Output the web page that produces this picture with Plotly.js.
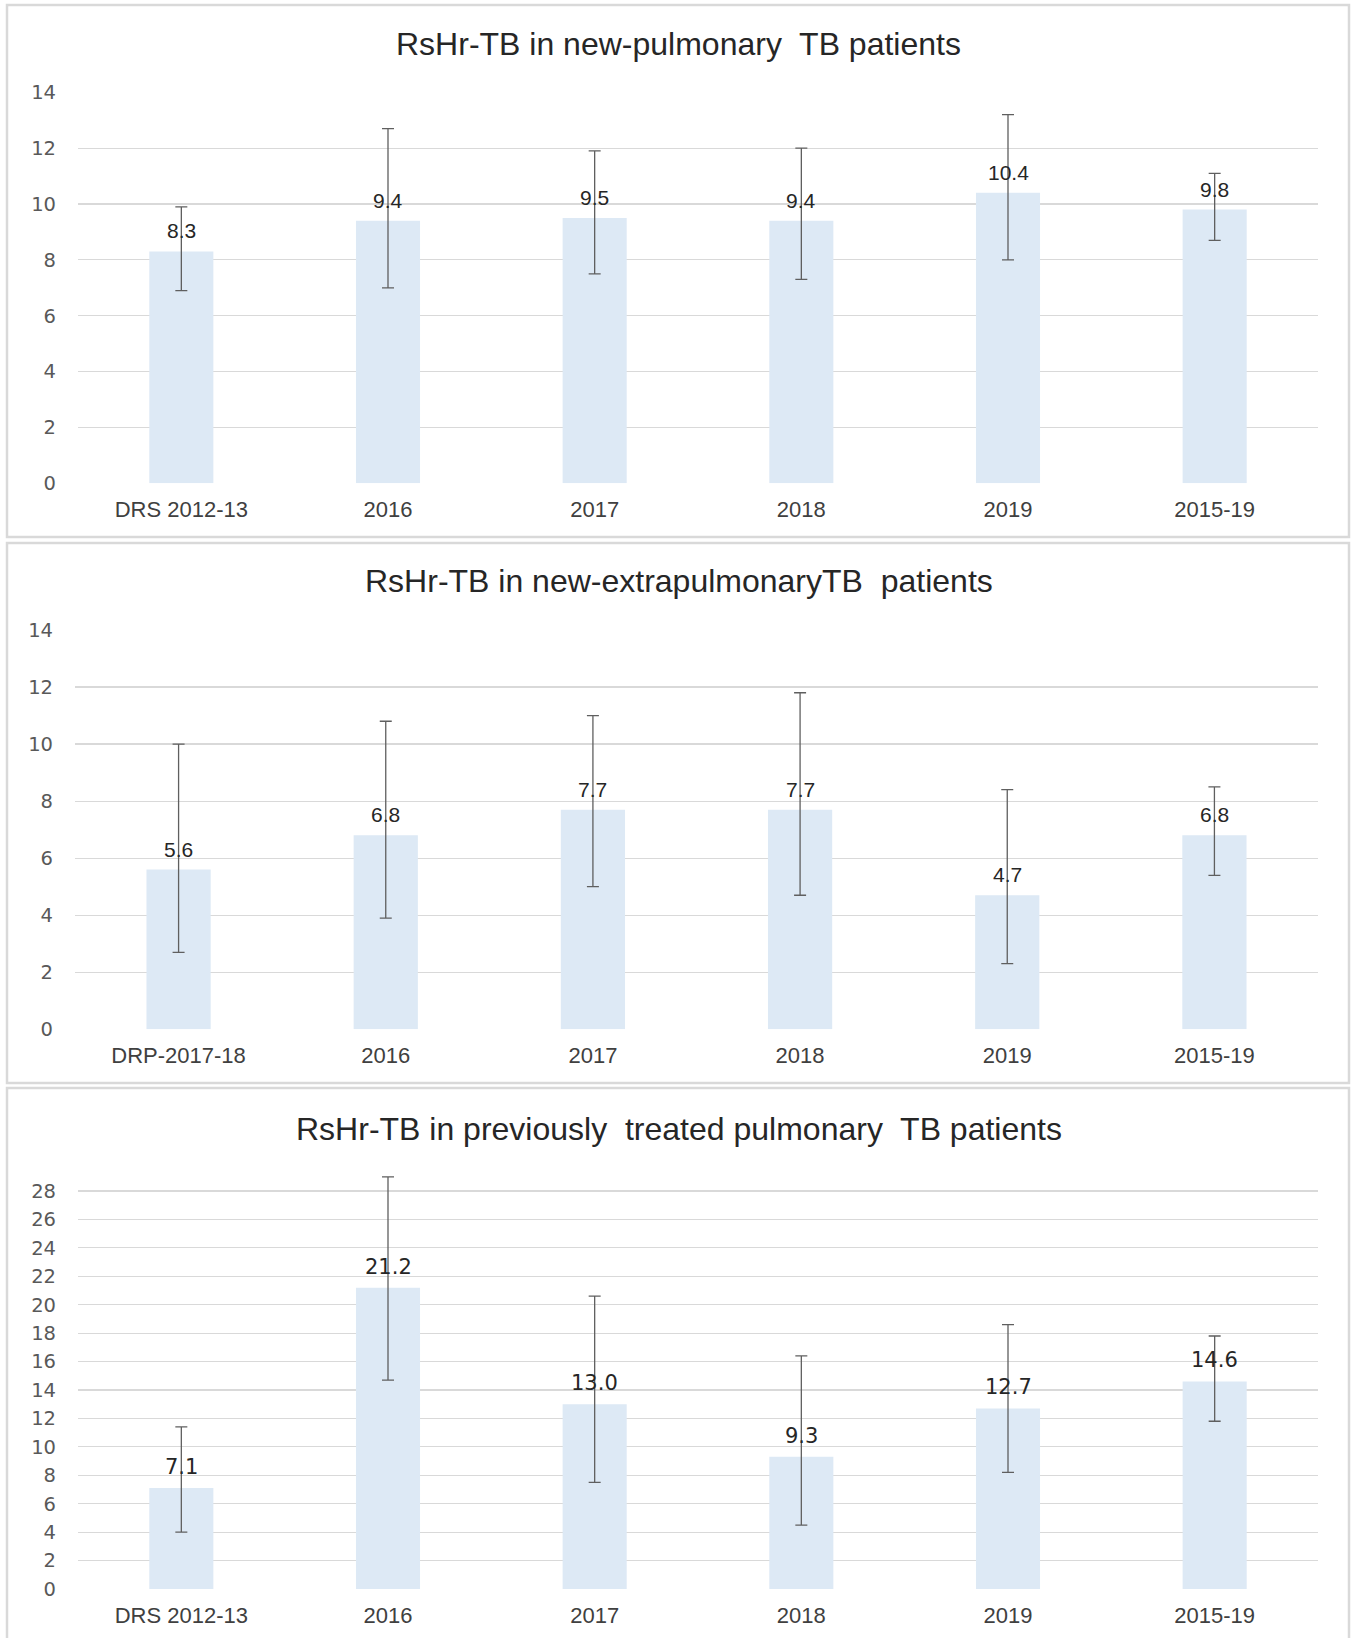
<!DOCTYPE html>
<html>
<head>
<meta charset="utf-8">
<script src="https://cdn.plot.ly/plotly-3.0.1.min.js"></script>
<style>
  html, body { margin: 0; padding: 0; background: #ffffff; }
  #chart { width: 1352px; height: 1638px; }
</style>
</head>
<body>
<div id="chart"></div>
<script>
// ---------- data ----------
const categories1 = ['DRS 2012-13', '2016', '2017', '2018', '2019', '2015-19'];
const values1 = [8.3, 9.4, 9.5, 9.4, 10.4, 9.8];
const upper1 = [9.9, 12.7, 11.9, 12.0, 13.2, 11.1];
const lower1 = [6.9, 7.0, 7.5, 7.3, 8.0, 8.7];

const categories2 = ['DRP-2017-18', '2016', '2017', '2018', '2019', '2015-19'];
const values2 = [5.6, 6.8, 7.7, 7.7, 4.7, 6.8];
const upper2 = [10.0, 10.8, 11.0, 11.8, 8.4, 8.5];
const lower2 = [2.7, 3.9, 5.0, 4.7, 2.3, 5.4];

const categories3 = ['DRS 2012-13', '2016', '2017', '2018', '2019', '2015-19'];
const values3 = [7.1, 21.2, 13.0, 9.3, 12.7, 14.6];
const upper3 = [11.4, 29.0, 20.6, 16.4, 18.6, 17.8];
const lower3 = [4.0, 14.7, 7.5, 4.5, 8.2, 11.8];

const titles = [
  'RsHr-TB in new-pulmonary\u00a0 TB patients',
  'RsHr-TB in new-extrapulmonaryTB\u00a0 patients',
  'RsHr-TB in previously\u00a0 treated pulmonary\u00a0 TB patients'
];
const ticks1 = [0, 2, 4, 6, 8, 10, 12, 14];
const ticks2 = [0, 2, 4, 6, 8, 10, 12, 14];
const ticks3 = [0, 2, 4, 6, 8, 10, 12, 14, 16, 18, 20, 22, 24, 26, 28];

// ---------- layout helpers ----------
const W = 1352, H = 1638;
const py = v => 1 - v / H;     // pixel-y -> paper-y
const px = v => v / W;         // pixel-x -> paper-x

const BAR_COLOR = '#dde9f5';
const ERR_COLOR = '#5f5f5f';
const GRID = '#d9d9d9';

function barTrace(cats, vals, up, lo, xa, ya) {
  return {
    type: 'bar',
    x: cats,
    y: vals,
    xaxis: xa,
    yaxis: ya,
    width: 0.31,
    marker: { color: BAR_COLOR, line: { width: 0 } },
    error_y: {
      type: 'data',
      symmetric: false,
      array: up.map((u, i) => +(u - vals[i]).toFixed(2)),
      arrayminus: lo.map((l, i) => +(vals[i] - l).toFixed(2)),
      color: ERR_COLOR,
      thickness: 1.3,
      width: 6
    },
    hoverinfo: 'x+y',
    showlegend: false
  };
}

const data = [
  barTrace(categories1, values1, upper1, lower1, 'x', 'y'),
  barTrace(categories2, values2, upper2, lower2, 'x2', 'y2'),
  barTrace(categories3, values3, upper3, lower3, 'x3', 'y3')
];

function labelAnnots(cats, vals, xref, yref, font) {
  return cats.map((c, i) => ({
    x: i, y: vals[i], xref: xref, yref: yref,
    text: vals[i].toFixed(1),
    showarrow: false,
    yanchor: 'bottom',
    xanchor: 'center',
    yshift: 7,
    font: font
  }));
}

const labelFontA = { family: 'Liberation Sans, Arial, sans-serif', size: 21, color: '#262626' };
const labelFontB = { family: 'DejaVu Sans, sans-serif', size: 21, color: '#262626' };
const tickFont = { family: 'DejaVu Sans, sans-serif', size: 19.5, color: '#595959' };
const xFont = { family: 'Liberation Sans, Arial, sans-serif', size: 22, color: '#404040' };
const titleFont = { family: 'Liberation Sans, Arial, sans-serif', size: 32, color: '#262626' };

function xAxis(domain, anchor, cats) {
  return {
    domain: domain,
    anchor: anchor,
    type: 'category',
    categoryorder: 'array',
    categoryarray: cats,
    range: [-0.5, cats.length - 0.5],
    autorange: false,
    showgrid: false,
    zeroline: false,
    showline: false,
    ticks: '',
    tickfont: xFont,
    ticklabelstandoff: 11,
    fixedrange: true
  };
}
function yAxis(domain, anchor, range, tv) {
  return {
    domain: domain,
    anchor: anchor,
    range: range,
    autorange: false,
    tickmode: 'array',
    tickvals: tv,
    ticktext: tv.map(String),
    showgrid: true,
    gridcolor: GRID,
    gridwidth: 1.2,
    zeroline: false,
    showline: false,
    ticks: '',
    tickfont: tickFont,
    ticklabelstandoff: 21,
    fixedrange: true
  };
}

const borderLine = { color: '#d9d9d9', width: 2.5 };
const shapes = [
  { type: 'rect', xref: 'paper', yref: 'paper', x0: px(7), x1: px(1349), y0: py(537), y1: py(5), line: borderLine },
  { type: 'rect', xref: 'paper', yref: 'paper', x0: px(7), x1: px(1349), y0: py(1083), y1: py(543), line: borderLine },
  { type: 'rect', xref: 'paper', yref: 'paper', x0: px(7), x1: px(1349), y0: py(1645), y1: py(1088), line: borderLine }
];

const titleAnnots = [
  { text: titles[0], y: py(44) },
  { text: titles[1], y: py(581) },
  { text: titles[2], y: py(1129) }
].map(t => ({
  text: t.text, x: 0.502, y: t.y, xref: 'paper', yref: 'paper',
  xanchor: 'center', yanchor: 'middle', showarrow: false, font: titleFont
}));

// panel 3: gridline 28 at 1191px, 0 at 1589px -> 14.21 px/unit; extend range to show the 29.0 whisker
const p3top = 1589 - 29.6 * ((1589 - 1191) / 28);

const layout = {
  width: W,
  height: H,
  margin: { l: 0, r: 0, t: 0, b: 0 },
  paper_bgcolor: '#ffffff',
  plot_bgcolor: 'rgba(0,0,0,0)',
  showlegend: false,
  xaxis: xAxis([px(78), px(1318)], 'y', categories1),
  yaxis: yAxis([py(483.3), py(92.3)], 'x', [0, 14], ticks1),
  xaxis2: xAxis([px(75), px(1318)], 'y2', categories2),
  yaxis2: yAxis([py(1029.3), py(630)], 'x2', [0, 14], ticks2),
  xaxis3: xAxis([px(78), px(1318)], 'y3', categories3),
  yaxis3: yAxis([py(1589), py(p3top)], 'x3', [0, 29.6], ticks3),
  shapes: shapes,
  annotations: titleAnnots
    .concat(labelAnnots(categories1, values1, 'x', 'y', labelFontA))
    .concat(labelAnnots(categories2, values2, 'x2', 'y2', labelFontA))
    .concat(labelAnnots(categories3, values3, 'x3', 'y3', labelFontB))
};

Plotly.newPlot('chart', data, layout, { displayModeBar: false, staticPlot: true });
</script>
</body>
</html>
